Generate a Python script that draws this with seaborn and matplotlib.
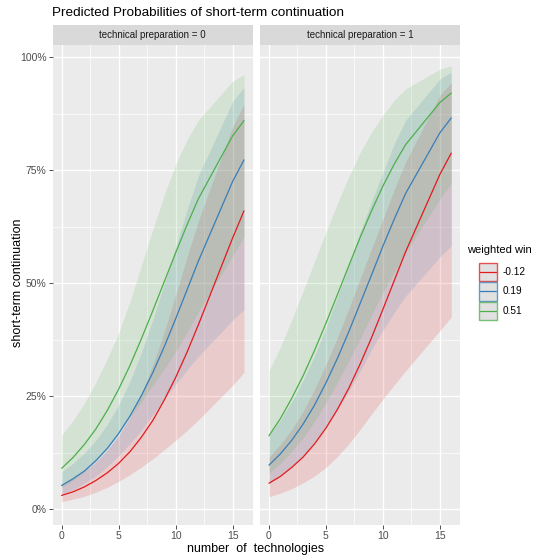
import matplotlib
matplotlib.use("Agg")
import matplotlib.pyplot as plt
import pandas as pd
import seaborn as sns
from matplotlib.lines import Line2D
from matplotlib.patches import Rectangle

# x grid of the predictions (number of technologies)
n_tech = [0, 1, 2, 3, 4, 5, 6, 7, 8, 9, 10, 11, 12, 15, 16]
win_levels = ["-0.12", "0.19", "0.51"]
win_colors = ["#E41A1C", "#377EB8", "#4DAF4A"]
prep_levels = [0, 1]

# technical preparation = 0  (percent)
red_mid0 = [3.0, 3.8, 4.9, 6.3, 8.0, 10.1, 12.7, 15.9, 19.6, 24.1, 29.1, 34.7, 40.8, 60.0, 66.0]
red_lo0 = [1.6, 2.2, 2.8, 3.7, 4.8, 6.1, 7.6, 9.3, 11.1, 13.1, 15.2, 17.4, 19.7, 27.4, 30.2]
red_hi0 = [5.5, 6.8, 8.4, 10.4, 13.0, 16.2, 20.3, 25.6, 31.9, 39.2, 47.3, 55.8, 63.8, 84.6, 89.6]
blue_mid0 = [5.2, 6.7, 8.4, 10.7, 13.4, 16.7, 20.6, 25.1, 30.2, 35.9, 42.1, 48.5, 54.9, 72.5, 77.3]
blue_lo0 = [3.2, 4.3, 5.7, 7.3, 9.4, 11.8, 14.5, 17.5, 20.9, 24.3, 27.6, 30.8, 33.8, 41.8, 44.2]
blue_hi0 = [8.3, 10.1, 12.4, 15.2, 18.7, 23.0, 28.3, 34.7, 41.9, 49.8, 58.0, 66.2, 73.8, 90.2, 93.4]
green_mid0 = [9.0, 11.4, 14.3, 17.7, 21.8, 26.5, 31.8, 37.7, 43.9, 50.3, 56.7, 62.9, 68.7, 82.6, 86.0]
green_lo0 = [4.8, 6.4, 8.3, 10.7, 13.5, 16.9, 20.4, 23.8, 27.4, 31.0, 34.8, 39.1, 43.7, 56.0, 60.3]
green_hi0 = [16.4, 19.6, 23.4, 28.0, 33.2, 38.9, 46.0, 53.9, 61.9, 69.5, 76.3, 81.7, 86.1, 94.7, 96.2]

# technical preparation = 1  (percent)
red_mid1 = [5.7, 7.2, 9.2, 11.5, 14.4, 17.9, 22.0, 26.7, 32.1, 37.9, 44.2, 50.6, 57.0, 74.1, 78.8]
red_lo1 = [2.7, 3.5, 4.5, 5.8, 7.3, 9.2, 11.6, 14.4, 17.6, 21.0, 24.3, 27.5, 30.6, 39.5, 42.5]
red_hi1 = [11.5, 14.3, 17.6, 21.6, 26.5, 32.0, 37.9, 44.3, 51.0, 57.6, 64.2, 70.8, 76.9, 91.6, 94.4]
blue_mid1 = [9.7, 12.2, 15.2, 18.8, 23.0, 27.9, 33.3, 39.2, 45.5, 51.8, 58.2, 64.2, 69.9, 83.3, 86.6]
blue_lo1 = [5.6, 7.3, 9.4, 11.9, 14.9, 18.2, 22.0, 26.1, 30.5, 35.3, 39.6, 43.5, 47.2, 55.8, 58.3]
blue_hi1 = [16.4, 19.7, 23.7, 28.5, 33.9, 40.1, 46.9, 54.0, 61.3, 68.0, 74.5, 80.9, 86.1, 95.2, 96.7]
green_mid1 = [16.2, 20.0, 24.5, 29.5, 35.1, 41.1, 47.4, 53.8, 60.1, 66.0, 71.5, 76.4, 80.7, 90.0, 92.1]
green_lo1 = [7.9, 10.1, 12.7, 15.8, 19.4, 23.5, 28.0, 32.8, 37.7, 42.9, 48.0, 52.4, 56.8, 68.6, 72.2]
green_hi1 = [30.6, 35.8, 41.9, 48.2, 54.8, 61.3, 67.6, 73.5, 78.9, 83.4, 87.2, 90.5, 93.0, 97.4, 98.1]

y_ticks = [0, 25, 50, 75, 100]
y_ticklabels = ["0%", "25%", "50%", "75%", "100%"]
x_ticks = [0, 5, 10, 15]

series = {
    0: [(red_mid0, red_lo0, red_hi0), (blue_mid0, blue_lo0, blue_hi0), (green_mid0, green_lo0, green_hi0)],
    1: [(red_mid1, red_lo1, red_hi1), (blue_mid1, blue_lo1, blue_hi1), (green_mid1, green_lo1, green_hi1)],
}
rows = []
for prep in prep_levels:
    for win, (mid, lo, hi) in zip(win_levels, series[prep]):
        for x, m, l, h in zip(n_tech, mid, lo, hi):
            rows.append({"x": x, "prep": prep, "win": win, "prob": m, "lo": l, "hi": h})
df = pd.DataFrame(rows)

sns.set_theme(style="darkgrid", rc={"axes.facecolor": "#EBEBEB", "grid.color": "white"})
plt.rcParams["font.family"] = ["Liberation Sans", "DejaVu Sans"]

W, H = 549, 555
fig = plt.figure(figsize=(W / 100, H / 100), dpi=100)
fig.patch.set_facecolor("white")

panel_left = [52.5, 259.8]
panel_w = 200.6
panel_top, panel_bot = 44.5, 524.8
strip_top = 25.2
palette = dict(zip(win_levels, win_colors))

for i, prep in enumerate(prep_levels):
    ax = fig.add_axes([panel_left[i] / W, 1 - panel_bot / H, panel_w / W, (panel_bot - panel_top) / H])
    sub = df[df["prep"] == prep]
    for win in win_levels:
        g = sub[sub["win"] == win]
        ax.fill_between(g["x"], g["lo"], g["hi"], color=palette[win], alpha=0.15, linewidth=0)
    sns.lineplot(data=sub, x="x", y="prob", hue="win", hue_order=win_levels, palette=palette,
                 linewidth=0.9, legend=False, ax=ax, estimator=None)
    ax.set_xlim(-0.8, 16.8)
    ax.set_ylim(-3.5, 102.85)
    ax.set_xticks(x_ticks)
    ax.set_xticks([2.5, 7.5, 12.5], minor=True)
    ax.set_yticks(y_ticks)
    ax.set_yticks([12.5, 37.5, 62.5, 87.5], minor=True)
    ax.grid(which="major", color="white", linewidth=1.0)
    ax.grid(which="minor", color="white", linewidth=0.5)
    ax.set_axisbelow(True)
    ax.tick_params(which="minor", length=0)
    ax.tick_params(axis="x", which="major", bottom=True, length=2.7, width=0.6, color="#333333",
                   labelsize=7.5, labelcolor="#4D4D4D", pad=1.5)
    if i == 0:
        ax.set_yticklabels(y_ticklabels)
        ax.tick_params(axis="y", which="major", left=True, length=2.7, width=0.6, color="#333333",
                       labelsize=7.5, labelcolor="#4D4D4D", pad=1.5)
    else:
        ax.set_yticklabels([])
        ax.tick_params(axis="y", which="major", left=False, length=0)
    ax.set_xlabel("")
    ax.set_ylabel("")
    for s in ax.spines.values():
        s.set_visible(False)

    # facet strip
    sax = fig.add_axes([panel_left[i] / W, 1 - panel_top / H, panel_w / W, (panel_top - strip_top) / H])
    sax.set_facecolor("#D9D9D9")
    sax.set_xticks([])
    sax.set_yticks([])
    sax.grid(False)
    for s in sax.spines.values():
        s.set_visible(False)
    sax.text(0.5, 0.5, f"technical preparation = {prep}", ha="center", va="center",
             fontsize=7, color="#1A1A1A", transform=sax.transAxes)

fig.text(52.5 / W, 1 - 12.5 / H, "Predicted Probabilities of short-term continuation",
         ha="left", va="center", fontsize=9.7, color="black")
fig.text(256 / W, 1 - 549 / H, "number  of  technologies", ha="center", va="center",
         fontsize=9, color="black")
fig.text(18 / W, 1 - 283 / H, "short-term continuation", ha="center", va="center",
         rotation=90, fontsize=9, color="black")

# legend drawn by hand so the keys are square and stacked like ggplot's
fig.text(467 / W, 1 - 250 / H, "weighted win", ha="left", va="center", fontsize=8, color="black")
key_x, key_w, key_h, key_top = 478.5, 18.5, 18.3, 263.0
for k, (lab, c) in enumerate(zip(win_levels, win_colors)):
    top = key_top + k * 19.3
    y0 = 1 - (top + key_h) / H
    fig.add_artist(Rectangle((key_x / W, y0), key_w / W, key_h / H, transform=fig.transFigure,
                             facecolor="#D8D8D8", edgecolor=c, linewidth=1.0, alpha=0.75))
    yc = 1 - (top + key_h / 2) / H
    fig.add_artist(Line2D([(key_x + 1) / W, (key_x + key_w - 1) / W], [yc, yc],
                          transform=fig.transFigure, color=c, linewidth=0.9))
    fig.text(503 / W, yc, lab, ha="left", va="center", fontsize=7.2, color="black")

fig.savefig("out.png", dpi=100)
